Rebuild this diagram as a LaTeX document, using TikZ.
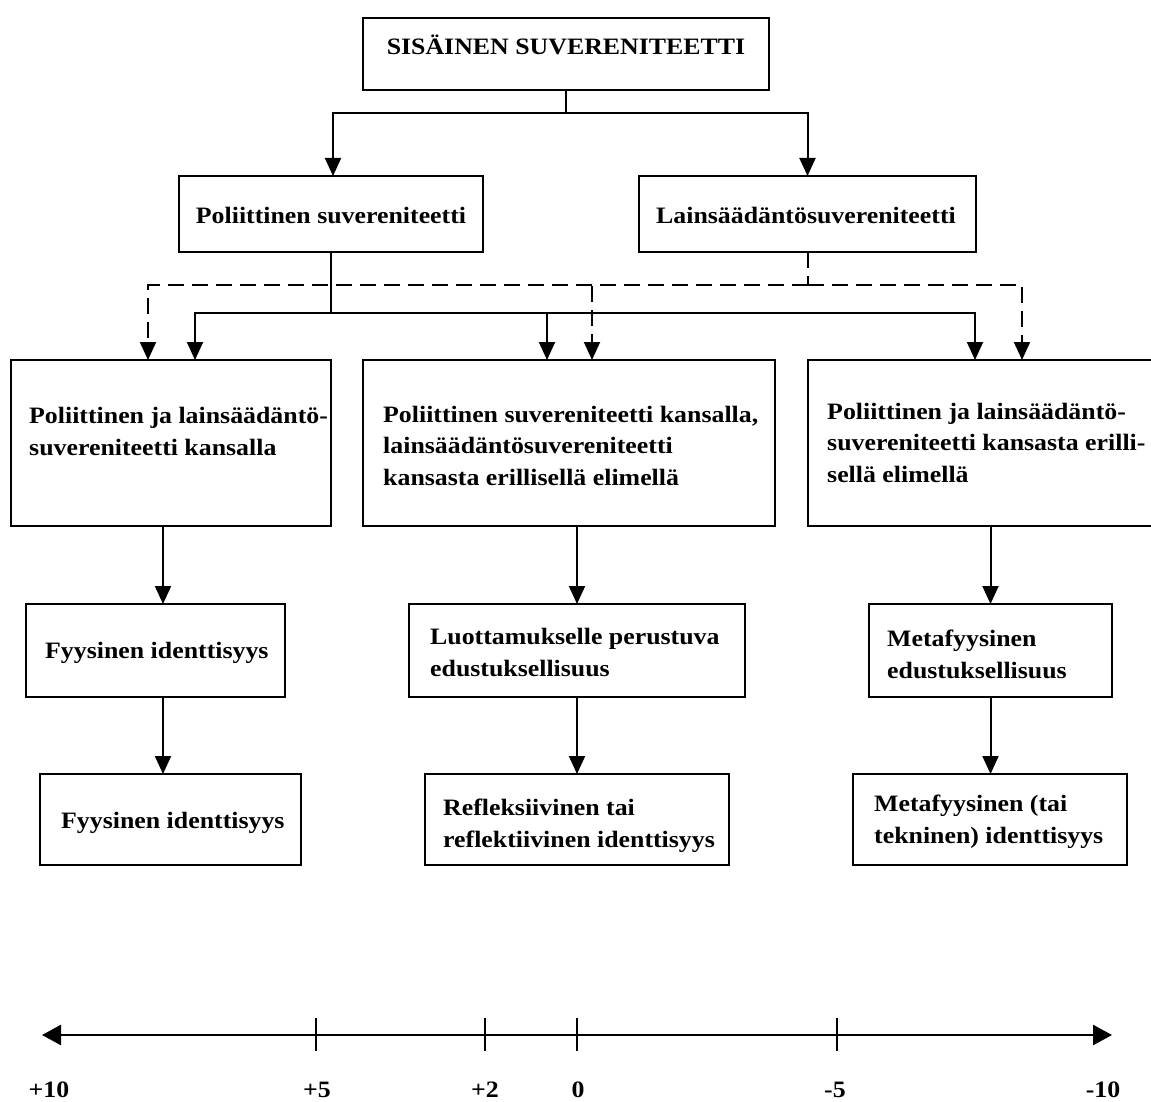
\documentclass[tikz,border=0pt]{standalone}
\usepackage{fontspec}
\setmainfont{Liberation Serif}[FakeStretch=1.1]
\usetikzlibrary{arrows.meta}
\begin{document}
\begin{tikzpicture}[x=1pt,y=-1pt,
  box/.style={draw, line width=2pt, inner sep=0pt, outer sep=0pt},
  txt/.style={font=\bfseries\fontsize{23.5}{31.5}\selectfont, inner sep=0pt, align=left},
  conn/.style={line width=2pt},
  arr/.style={line width=2pt, -{Triangle[length=18pt,width=16pt]}},
  darr/.style={line width=2pt, dash pattern=on 16pt off 8pt, -{Triangle[length=18pt,width=16pt]}},
  dconn/.style={line width=2pt, dash pattern=on 16pt off 8pt}]
\useasboundingbox (0,0) rectangle (1151,1102);
% boxes
\node[box, minimum width=406pt, minimum height=72pt] (T) at (566,54) {};
\node[box, minimum width=304pt, minimum height=76pt] (P) at (331,214) {};
\node[box, minimum width=337pt, minimum height=76pt] (Lz) at (807.5,214) {};
\node[box, minimum width=320pt, minimum height=166pt] (L) at (171,443) {};
\node[box, minimum width=412pt, minimum height=166pt] (M) at (569,443) {};
\node[box, minimum width=346pt, minimum height=166pt] (R) at (981,443) {};
\node[box, minimum width=259pt, minimum height=93pt] (F1) at (155.5,650.5) {};
\node[box, minimum width=336pt, minimum height=93pt] (F2) at (577,650.5) {};
\node[box, minimum width=243pt, minimum height=93pt] (F3) at (990.5,650.5) {};
\node[box, minimum width=261pt, minimum height=91pt] (G1) at (170.5,819.5) {};
\node[box, minimum width=304pt, minimum height=91pt] (G2) at (577,819.5) {};
\node[box, minimum width=274pt, minimum height=91pt] (G3) at (990,819.5) {};
% texts (base anchor = baseline of the last line)
\node[txt, anchor=base] (tT) at (566,54.5) {SISÄINEN SUVERENITEETTI};
\node[txt, anchor=base] (tP) at (331,223) {Poliittinen suvereniteetti};
\node[txt, anchor=base] (tLz) at (806,223) {Lainsäädäntösuvereniteetti};
\node[txt, anchor=base west] (tL) at (29,455) {Poliittinen ja lainsäädäntö-\\suvereniteetti kansalla};
\node[txt, anchor=base west] (tM) at (383,485) {Poliittinen suvereniteetti kansalla,\\lainsäädäntösuvereniteetti\\kansasta erillisellä elimellä};
\node[txt, anchor=base west] (tR) at (827,482) {Poliittinen ja lainsäädäntö-\\suvereniteetti kansasta erilli-\\sellä elimellä};
\node[txt, anchor=base west] (tF1) at (45,658) {Fyysinen identtisyys};
\node[txt, anchor=base west] (tF2) at (430,676) {Luottamukselle perustuva\\edustuksellisuus};
\node[txt, anchor=base west] (tF3) at (887,678) {Metafyysinen\\edustuksellisuus};
\node[txt, anchor=base west] (tG1) at (61,828) {Fyysinen identtisyys};
\node[txt, anchor=base west] (tG2) at (443,847) {Refleksiivinen tai\\reflektiivinen identtisyys};
\node[txt, anchor=base west] (tG3) at (874,843) {Metafyysinen (tai\\tekninen) identtisyys};
% top connectors
\coordinate (j1) at (566,113);
\draw[conn] (T.south) -- (j1);
\draw[arr] (j1) -| ([xshift=2pt]P.north);
\draw[arr] (j1) -| (Lz.north);
% solid from P
\coordinate (j2) at (331,313);
\draw[conn] (P.south) -- (j2);
\draw[arr] (j2) -| ([xshift=24pt]L.north);
\draw[arr] (j2) -| ([xshift=-22pt]M.north);
\draw[arr] (j2) -| ([xshift=-6pt]R.north);
% dashed from Lz
\coordinate (j3) at (807.5,285);
\draw[dconn] (Lz.south) -- (j3);
\draw[darr] (j3) -| ([xshift=-23pt]L.north);
\draw[darr] (j3) -| ([xshift=23pt]M.north);
\draw[darr] (j3) -| ([xshift=41pt]R.north);
% vertical chains
\draw[arr] ([xshift=-8pt]L.south) -- ([xshift=-8pt]L.south |- F1.north);
\draw[arr] ([xshift=7.5pt]F1.south) -- ([xshift=7.5pt]F1.south |- G1.north);
\draw[arr] (M.south -| F2.north) -- (F2.north);
\draw[arr] (F2.south) -- (G2.north);
\draw[arr] (R.south -| F3.north) -- (F3.north);
\draw[arr] (F3.south) -- (F3.south |- G3.north);
% axis
\coordinate (axL) at (42,1035);
\coordinate (axR) at (1112,1035);
\draw[line width=2.5pt, {Triangle[length=19pt,width=20pt]}-{Triangle[length=19pt,width=20pt]}] (axL) -- (axR);
\foreach \x in {316,485,577,837} \draw[line width=1.5pt] (\x,1018) -- (\x,1051);
\node[txt, anchor=base] (n1) at (49,1097.5) {+10};
\node[txt, anchor=base] (n2) at (317,1097.5) {+5};
\node[txt, anchor=base] (n3) at (485,1097.5) {+2};
\node[txt, anchor=base] (n4) at (578,1097.5) {0};
\node[txt, anchor=base] (n5) at (835,1097.5) {-5};
\node[txt, anchor=base] (n6) at (1103,1097.5) {-10};
\end{tikzpicture}
\end{document}
